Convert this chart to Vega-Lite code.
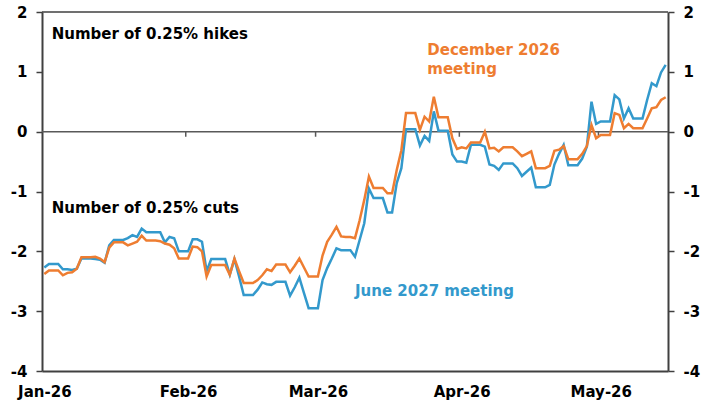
{
  "$schema": "https://vega.github.io/schema/vega-lite/v6.json",
  "width": 626,
  "height": 359,
  "autosize": {"type": "none"},
  "padding": {"left": 42, "top": 12, "right": 44, "bottom": 36},
  "background": "#ffffff",
  "config": {
    "view": {"stroke": null},
    "axis": {"grid": false, "labelFont": "DejaVu Sans", "labelFontWeight": "bold", "labelColor": "#000000", "labelFontSize": 15, "domainColor": "#404040", "tickColor": "#404040"}
  },
  "datasets": {
    "series": [
      {"date": "2026-01-01", "dec26": -2.38, "jun27": -2.27},
      {"date": "2026-01-02", "dec26": -2.32, "jun27": -2.21},
      {"date": "2026-01-03", "dec26": -2.32, "jun27": -2.21},
      {"date": "2026-01-04", "dec26": -2.32, "jun27": -2.21},
      {"date": "2026-01-05", "dec26": -2.40, "jun27": -2.30},
      {"date": "2026-01-06", "dec26": -2.36, "jun27": -2.30},
      {"date": "2026-01-07", "dec26": -2.35, "jun27": -2.31},
      {"date": "2026-01-08", "dec26": -2.29, "jun27": -2.29},
      {"date": "2026-01-09", "dec26": -2.10, "jun27": -2.12},
      {"date": "2026-01-10", "dec26": -2.10, "jun27": -2.12},
      {"date": "2026-01-11", "dec26": -2.10, "jun27": -2.12},
      {"date": "2026-01-12", "dec26": -2.09, "jun27": -2.13},
      {"date": "2026-01-13", "dec26": -2.12, "jun27": -2.14},
      {"date": "2026-01-14", "dec26": -2.18, "jun27": -2.19},
      {"date": "2026-01-15", "dec26": -1.94, "jun27": -1.90},
      {"date": "2026-01-16", "dec26": -1.85, "jun27": -1.81},
      {"date": "2026-01-17", "dec26": -1.85, "jun27": -1.81},
      {"date": "2026-01-18", "dec26": -1.85, "jun27": -1.81},
      {"date": "2026-01-19", "dec26": -1.90, "jun27": -1.78},
      {"date": "2026-01-20", "dec26": -1.87, "jun27": -1.73},
      {"date": "2026-01-21", "dec26": -1.84, "jun27": -1.76},
      {"date": "2026-01-22", "dec26": -1.74, "jun27": -1.62},
      {"date": "2026-01-23", "dec26": -1.82, "jun27": -1.68},
      {"date": "2026-01-24", "dec26": -1.82, "jun27": -1.68},
      {"date": "2026-01-25", "dec26": -1.82, "jun27": -1.68},
      {"date": "2026-01-26", "dec26": -1.83, "jun27": -1.68},
      {"date": "2026-01-27", "dec26": -1.87, "jun27": -1.85},
      {"date": "2026-01-28", "dec26": -1.89, "jun27": -1.76},
      {"date": "2026-01-29", "dec26": -1.95, "jun27": -1.78},
      {"date": "2026-01-30", "dec26": -2.12, "jun27": -2.00},
      {"date": "2026-01-31", "dec26": -2.12, "jun27": -2.00},
      {"date": "2026-02-01", "dec26": -2.12, "jun27": -2.00},
      {"date": "2026-02-02", "dec26": -1.92, "jun27": -1.80},
      {"date": "2026-02-03", "dec26": -1.93, "jun27": -1.80},
      {"date": "2026-02-04", "dec26": -2.00, "jun27": -1.84},
      {"date": "2026-02-05", "dec26": -2.42, "jun27": -2.33},
      {"date": "2026-02-06", "dec26": -2.23, "jun27": -2.13},
      {"date": "2026-02-07", "dec26": -2.23, "jun27": -2.13},
      {"date": "2026-02-08", "dec26": -2.23, "jun27": -2.13},
      {"date": "2026-02-09", "dec26": -2.23, "jun27": -2.13},
      {"date": "2026-02-10", "dec26": -2.39, "jun27": -2.39},
      {"date": "2026-02-11", "dec26": -2.12, "jun27": -2.13},
      {"date": "2026-02-12", "dec26": -2.33, "jun27": -2.42},
      {"date": "2026-02-13", "dec26": -2.53, "jun27": -2.73},
      {"date": "2026-02-14", "dec26": -2.53, "jun27": -2.73},
      {"date": "2026-02-15", "dec26": -2.53, "jun27": -2.73},
      {"date": "2026-02-16", "dec26": -2.48, "jun27": -2.64},
      {"date": "2026-02-17", "dec26": -2.40, "jun27": -2.52},
      {"date": "2026-02-18", "dec26": -2.30, "jun27": -2.55},
      {"date": "2026-02-19", "dec26": -2.33, "jun27": -2.56},
      {"date": "2026-02-20", "dec26": -2.22, "jun27": -2.51},
      {"date": "2026-02-21", "dec26": -2.22, "jun27": -2.51},
      {"date": "2026-02-22", "dec26": -2.22, "jun27": -2.51},
      {"date": "2026-02-23", "dec26": -2.35, "jun27": -2.74},
      {"date": "2026-02-24", "dec26": -2.24, "jun27": -2.60},
      {"date": "2026-02-25", "dec26": -2.12, "jun27": -2.44},
      {"date": "2026-02-26", "dec26": -2.27, "jun27": -2.70},
      {"date": "2026-02-27", "dec26": -2.42, "jun27": -2.95},
      {"date": "2026-02-28", "dec26": -2.42, "jun27": -2.95},
      {"date": "2026-03-01", "dec26": -2.42, "jun27": -2.95},
      {"date": "2026-03-02", "dec26": -2.07, "jun27": -2.48},
      {"date": "2026-03-03", "dec26": -1.84, "jun27": -2.28},
      {"date": "2026-03-04", "dec26": -1.72, "jun27": -2.12},
      {"date": "2026-03-05", "dec26": -1.59, "jun27": -1.95},
      {"date": "2026-03-06", "dec26": -1.75, "jun27": -1.98},
      {"date": "2026-03-07", "dec26": -1.76, "jun27": -1.98},
      {"date": "2026-03-08", "dec26": -1.76, "jun27": -1.98},
      {"date": "2026-03-09", "dec26": -1.78, "jun27": -2.09},
      {"date": "2026-03-10", "dec26": -1.48, "jun27": -1.81},
      {"date": "2026-03-11", "dec26": -1.14, "jun27": -1.53},
      {"date": "2026-03-12", "dec26": -0.75, "jun27": -0.95},
      {"date": "2026-03-13", "dec26": -0.94, "jun27": -1.11},
      {"date": "2026-03-14", "dec26": -0.94, "jun27": -1.11},
      {"date": "2026-03-15", "dec26": -0.94, "jun27": -1.11},
      {"date": "2026-03-16", "dec26": -1.03, "jun27": -1.35},
      {"date": "2026-03-17", "dec26": -1.03, "jun27": -1.35},
      {"date": "2026-03-18", "dec26": -0.64, "jun27": -0.86},
      {"date": "2026-03-19", "dec26": -0.31, "jun27": -0.61},
      {"date": "2026-03-20", "dec26": 0.31, "jun27": 0.04},
      {"date": "2026-03-21", "dec26": 0.31, "jun27": 0.04},
      {"date": "2026-03-22", "dec26": 0.31, "jun27": 0.04},
      {"date": "2026-03-23", "dec26": 0.03, "jun27": -0.23},
      {"date": "2026-03-24", "dec26": 0.25, "jun27": -0.07},
      {"date": "2026-03-25", "dec26": 0.17, "jun27": -0.155},
      {"date": "2026-03-26", "dec26": 0.585, "jun27": 0.34},
      {"date": "2026-03-27", "dec26": 0.24, "jun27": 0.017},
      {"date": "2026-03-28", "dec26": 0.24, "jun27": 0.017},
      {"date": "2026-03-29", "dec26": 0.24, "jun27": 0.017},
      {"date": "2026-03-30", "dec26": -0.11, "jun27": -0.38},
      {"date": "2026-03-31", "dec26": -0.29, "jun27": -0.50},
      {"date": "2026-04-01", "dec26": -0.26, "jun27": -0.50},
      {"date": "2026-04-02", "dec26": -0.28, "jun27": -0.52},
      {"date": "2026-04-03", "dec26": -0.18, "jun27": -0.22},
      {"date": "2026-04-04", "dec26": -0.18, "jun27": -0.22},
      {"date": "2026-04-05", "dec26": -0.18, "jun27": -0.22},
      {"date": "2026-04-06", "dec26": 0.0, "jun27": -0.25},
      {"date": "2026-04-07", "dec26": -0.28, "jun27": -0.55},
      {"date": "2026-04-08", "dec26": -0.27, "jun27": -0.57},
      {"date": "2026-04-09", "dec26": -0.33, "jun27": -0.64},
      {"date": "2026-04-10", "dec26": -0.26, "jun27": -0.53},
      {"date": "2026-04-11", "dec26": -0.26, "jun27": -0.53},
      {"date": "2026-04-12", "dec26": -0.26, "jun27": -0.53},
      {"date": "2026-04-13", "dec26": -0.33, "jun27": -0.61},
      {"date": "2026-04-14", "dec26": -0.41, "jun27": -0.74},
      {"date": "2026-04-15", "dec26": -0.37, "jun27": -0.67},
      {"date": "2026-04-16", "dec26": -0.33, "jun27": -0.60},
      {"date": "2026-04-17", "dec26": -0.61, "jun27": -0.93},
      {"date": "2026-04-18", "dec26": -0.61, "jun27": -0.93},
      {"date": "2026-04-19", "dec26": -0.61, "jun27": -0.93},
      {"date": "2026-04-20", "dec26": -0.57, "jun27": -0.89},
      {"date": "2026-04-21", "dec26": -0.32, "jun27": -0.55},
      {"date": "2026-04-22", "dec26": -0.30, "jun27": -0.37},
      {"date": "2026-04-23", "dec26": -0.24, "jun27": -0.22},
      {"date": "2026-04-24", "dec26": -0.46, "jun27": -0.56},
      {"date": "2026-04-25", "dec26": -0.46, "jun27": -0.56},
      {"date": "2026-04-26", "dec26": -0.46, "jun27": -0.56},
      {"date": "2026-04-27", "dec26": -0.37, "jun27": -0.45},
      {"date": "2026-04-28", "dec26": -0.24, "jun27": -0.25},
      {"date": "2026-04-29", "dec26": 0.11, "jun27": 0.50},
      {"date": "2026-04-30", "dec26": -0.11, "jun27": 0.13},
      {"date": "2026-05-01", "dec26": -0.055, "jun27": 0.17},
      {"date": "2026-05-02", "dec26": -0.055, "jun27": 0.17},
      {"date": "2026-05-03", "dec26": -0.055, "jun27": 0.17},
      {"date": "2026-05-04", "dec26": 0.31, "jun27": 0.61},
      {"date": "2026-05-05", "dec26": 0.28, "jun27": 0.54},
      {"date": "2026-05-06", "dec26": 0.057, "jun27": 0.22},
      {"date": "2026-05-07", "dec26": 0.13, "jun27": 0.39},
      {"date": "2026-05-08", "dec26": 0.057, "jun27": 0.22},
      {"date": "2026-05-09", "dec26": 0.057, "jun27": 0.22},
      {"date": "2026-05-10", "dec26": 0.057, "jun27": 0.22},
      {"date": "2026-05-11", "dec26": 0.22, "jun27": 0.53},
      {"date": "2026-05-12", "dec26": 0.39, "jun27": 0.81},
      {"date": "2026-05-13", "dec26": 0.41, "jun27": 0.76},
      {"date": "2026-05-14", "dec26": 0.53, "jun27": 0.99},
      {"date": "2026-05-15", "dec26": 0.575, "jun27": 1.115}
    ],
    "monthTicks": [
      {"date": "2026-01-31T12:00:00Z"},
      {"date": "2026-02-28T12:00:00Z"},
      {"date": "2026-03-31T12:00:00Z"},
      {"date": "2026-04-30T12:00:00Z"}
    ],
    "notes": [
      {"date": "2026-01-02T14:00:00Z", "value": 1.549, "label": "Number of 0.25% hikes", "kind": "note"},
      {"date": "2026-01-02T14:00:00Z", "value": -1.359, "label": "Number of 0.25% cuts", "kind": "note"},
      {"date": "2026-03-24T14:00:00Z", "value": 1.281, "label": "December 2026", "kind": "dec"},
      {"date": "2026-03-24T14:00:00Z", "value": 0.964, "label": "meeting", "kind": "dec"},
      {"date": "2026-03-09T00:00:00Z", "value": -2.748, "label": "June 2027 meeting", "kind": "jun"}
    ]
  },
  "layer": [
    {
      "data": {"values": [{"level": 0}]},
      "mark": {"type": "rule", "color": "#595959", "strokeWidth": 1.5},
      "encoding": {
        "y": {"field": "level", "type": "quantitative", "scale": {"domain": [-4, 2], "nice": false, "zero": false}, "axis": null}
      }
    },
    {
      "data": {"name": "monthTicks"},
      "mark": {"type": "rule", "color": "#595959", "strokeWidth": 1.5},
      "encoding": {
        "x": {"field": "date", "type": "temporal", "scale": {"type": "utc", "domain": [{"year": 2025, "month": 12, "date": 31, "hours": 12, "utc": true}, {"year": 2026, "month": 5, "date": 15, "hours": 12, "utc": true}]}, "axis": null},
        "y": {"datum": 0, "type": "quantitative", "scale": {"domain": [-4, 2], "nice": false, "zero": false}, "axis": null},
        "y2": {"datum": -0.085}
      }
    },
    {
      "data": {"name": "series"},
      "mark": {"type": "line", "color": "#3399CC", "strokeWidth": 2.5},
      "encoding": {
        "x": {"field": "date", "type": "temporal", "scale": {"type": "utc", "domain": [{"year": 2025, "month": 12, "date": 31, "hours": 12, "utc": true}, {"year": 2026, "month": 5, "date": 15, "hours": 12, "utc": true}]},
          "axis": {"orient": "bottom", "title": null, "values": [{"year": 2026, "month": 1, "date": 1, "utc": true}, {"year": 2026, "month": 2, "date": 1, "utc": true}, {"year": 2026, "month": 3, "date": 1, "utc": true}, {"year": 2026, "month": 4, "date": 1, "utc": true}, {"year": 2026, "month": 5, "date": 1, "utc": true}], "labelExpr": "utcFormat(datum.value, '%b-%y')", "ticks": false, "tickSize": 0, "labelPadding": 13, "domainWidth": 2, "labelFlush": false, "labelOverlap": false, "labelBound": false}},
        "y": {"field": "jun27", "type": "quantitative", "scale": {"domain": [-4, 2], "nice": false, "zero": false},
          "axis": {"orient": "left", "title": null, "values": [-4, -3, -2, -1, 0, 1, 2], "tickSize": 6, "tickWidth": 1.5, "domainWidth": 2, "labelPadding": 9, "labelExpr": "'' + datum.value"}}
      }
    },
    {
      "data": {"name": "series"},
      "mark": {"type": "line", "color": "#EE7D31", "strokeWidth": 2.5},
      "encoding": {
        "x": {"field": "date", "type": "temporal", "scale": {"type": "utc", "domain": [{"year": 2025, "month": 12, "date": 31, "hours": 12, "utc": true}, {"year": 2026, "month": 5, "date": 15, "hours": 12, "utc": true}]}, "axis": null},
        "y": {"field": "dec26", "type": "quantitative", "scale": {"domain": [-4, 2], "nice": false, "zero": false}, "axis": null}
      }
    },
    {
      "data": {"values": [{"level": 2}]},
      "mark": {"type": "rule", "color": "#404040", "strokeWidth": 1.5},
      "encoding": {
        "y": {"field": "level", "type": "quantitative", "scale": {"domain": [-4, 2], "nice": false, "zero": false},
          "axis": {"orient": "right", "title": null, "values": [-4, -3, -2, -1, 0, 1, 2], "tickSize": 6, "tickWidth": 1.5, "domainWidth": 2, "labelPadding": 9, "labelExpr": "'' + datum.value"}}
      }
    },
    {
      "data": {"name": "notes"},
      "mark": {"type": "text", "font": "DejaVu Sans", "fontWeight": "bold", "fontSize": 15, "align": "left", "baseline": "alphabetic"},
      "encoding": {
        "x": {"field": "date", "type": "temporal", "scale": {"type": "utc", "domain": [{"year": 2025, "month": 12, "date": 31, "hours": 12, "utc": true}, {"year": 2026, "month": 5, "date": 15, "hours": 12, "utc": true}]}, "axis": null},
        "y": {"field": "value", "type": "quantitative", "scale": {"domain": [-4, 2], "nice": false, "zero": false}, "axis": null},
        "text": {"field": "label"},
        "color": {"field": "kind", "type": "nominal", "scale": {"domain": ["note", "dec", "jun"], "range": ["#000000", "#EE7D31", "#3399CC"]}, "legend": null}
      }
    }
  ],
  "resolve": {"axis": {"x": "independent", "y": "independent"}}
}
